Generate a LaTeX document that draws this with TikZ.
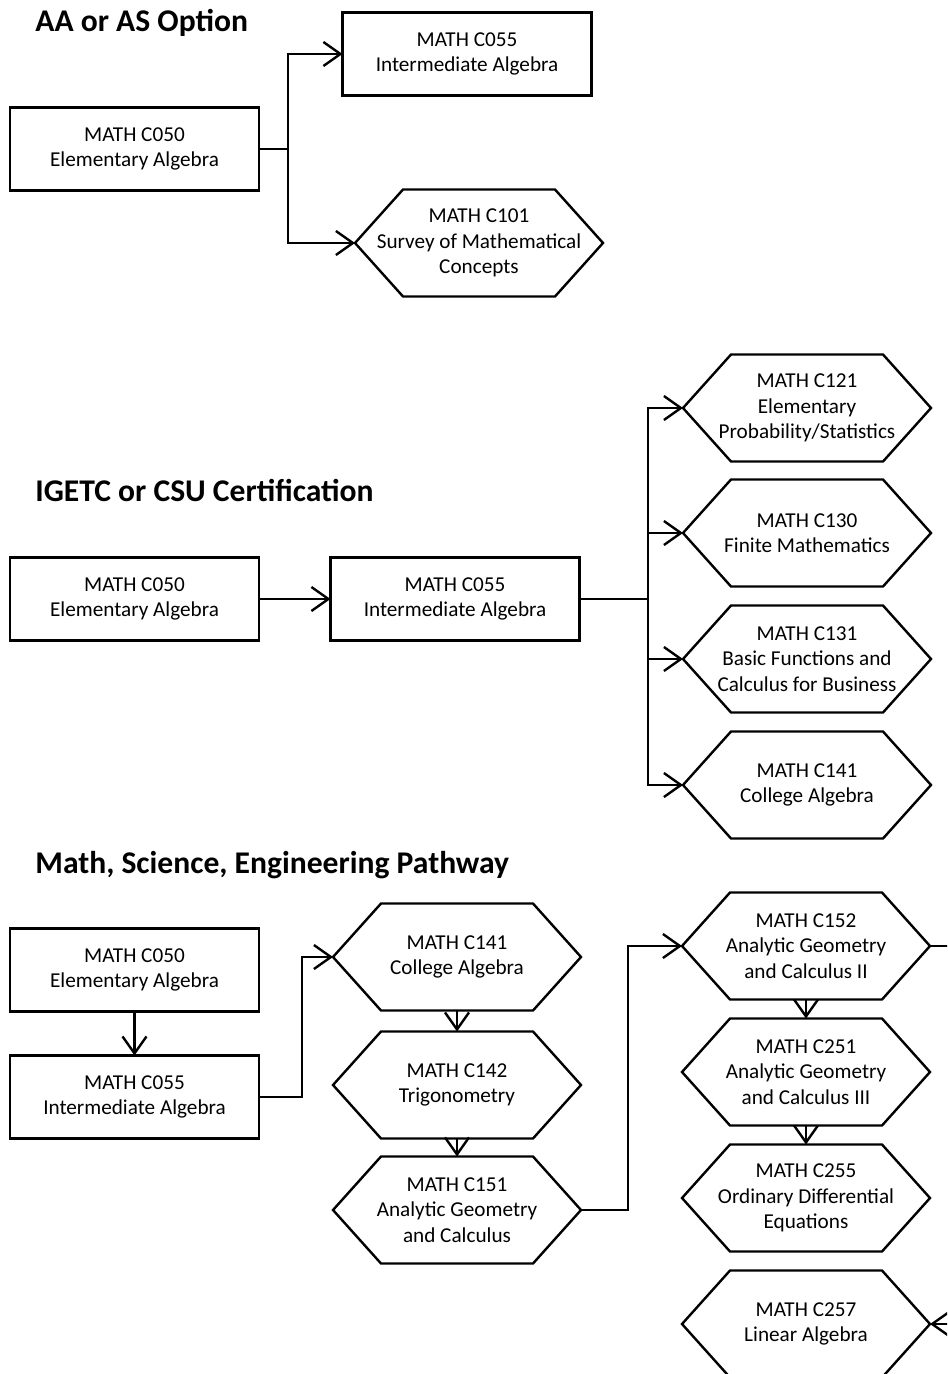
\documentclass[tikz,border=0pt]{standalone}
\usepackage{fontspec}
\setmainfont{Carlito}
\usetikzlibrary{arrows.meta}

\tikzset{
	course/.style={draw, line width=1.2pt, minimum width=124.5pt, minimum height=41.5pt,
		inner sep=2pt, outer sep=0pt, align=center, font=\fontsize{10.6}{12.75}\selectfont},
	hexa/.style={minimum width=124pt, minimum height=53.5pt, inner sep=0pt, outer sep=0pt,
		align=center, font=\fontsize{10.6}{12.75}\selectfont},
	titolo/.style={anchor=west, inner sep=0pt, font=\fontsize{15.8}{18}\selectfont\bfseries},
	link/.style={line width=1.2pt, -{Straight Barb[length=8.5pt,width=12pt]}},
}
% corso a esagono
\newcommand{\hexcourse}[3]{%
	\node[hexa] (#1) at (#2) {#3};
	\draw[line width=1.2pt] (#1.west) -- ([xshift=24pt]#1.north west) -- ([xshift=-24pt]#1.north east)
		-- (#1.east) -- ([xshift=-24pt]#1.south east) -- ([xshift=24pt]#1.south west) -- cycle;
}

\begin{document}
\begin{tikzpicture}[x=0.5pt, y=-0.5pt]
		\useasboundingbox (0,0) rectangle (947,1374);
		\clip (0,0) rectangle (947,1374);
		
		% AA / AS
		\node[titolo] (t1) at (35,23) {AA or AS Option};
		\node[course] (c050a) at (134.5,149) {MATH C050\\Elementary Algebra};
		\node[course] (c055a) at (467,54) {MATH C055\\Intermediate Algebra};
		\hexcourse{c101a}{479,243}{MATH C101\\Survey of Mathematical\\Concepts}
		\coordinate (busa) at (288,149);
		\draw[link] (c050a.east) -- (busa) |- (c055a.west);
		\draw[link] (busa) |- (c101a.west);
		
		% IGETC / CSU
		\node[titolo] (t2) at (35,491) {IGETC or CSU Certification};
		\node[course] (c050b) at (134.5,599) {MATH C050\\Elementary Algebra};
		\node[course] (c055b) at (455,599) {MATH C055\\Intermediate Algebra};
		\draw[link] (c050b) -- (c055b);
		\hexcourse{c121b}{807,408}{MATH C121\\Elementary\\Probability/Statistics}
		\hexcourse{c130b}{807,533}{MATH C130\\Finite Mathematics}
		\hexcourse{c131b}{807,659}{MATH C131\\Basic Functions and\\Calculus for Business}
		\hexcourse{c141b}{807,785}{MATH C141\\College Algebra}
		\coordinate (busb) at (648,599);
		\draw[line width=1.2pt] (c055b) -- (busb);
		\foreach \h in {c121b,c130b,c131b,c141b}
			\draw[link] (busb) |- (\h.west);
		
		% math, science, engineering
		\node[titolo] (t3) at (35,865) {Math, Science, Engineering Pathway};
		\node[course] (c050c) at (134.5,970) {MATH C050\\Elementary Algebra};
		\node[course] (c055c) at (134.5,1097) {MATH C055\\Intermediate Algebra};
		\draw[link] (c050c) -- (c055c);
		\hexcourse{c141c}{457,957}{MATH C141\\College Algebra}
		\hexcourse{c142c}{457,1085}{MATH C142\\Trigonometry}
		\hexcourse{c151c}{457,1210}{MATH C151\\Analytic Geometry\\and Calculus}
		\hexcourse{c152c}{806,946}{MATH C152\\Analytic Geometry\\and Calculus II}
		\hexcourse{c251c}{806,1072}{MATH C251\\Analytic Geometry\\and Calculus III}
		\hexcourse{c255c}{806,1198}{MATH C255\\Ordinary Differential\\Equations}
		\hexcourse{c257c}{806,1324}{MATH C257\\Linear Algebra}
		\draw[link] (c055c.east) -- ++(43,0) |- (c141c.west);
		\draw[link] (c141c.south) -- (c142c.north);
		\draw[link] (c142c.south) -- (c151c.north);
		\draw[link] (c151c.east) -- ++(47,0) |- (c152c.west);
		\draw[link] (c152c.south) -- (c251c.north);
		\draw[link] (c251c.south) -- (c255c.north);
		\draw[link] (c152c.east) -- ++(40,0) |- (c257c.east);
	\end{tikzpicture}
\end{document}
